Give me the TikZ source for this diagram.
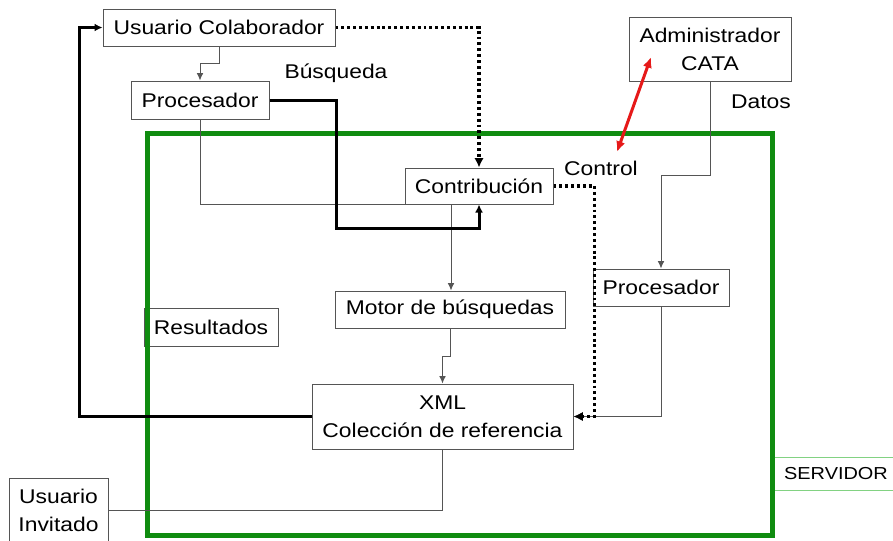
\documentclass[tikz,border=0pt]{standalone}
\usepackage{fontspec}
\setmainfont{Liberation Sans}[FakeStretch=1.15]
\usetikzlibrary{arrows.meta,calc}
\definecolor{boxgray}{RGB}{85,85,85}
\definecolor{srvgreen}{RGB}{16,140,16}
\definecolor{lightgreen}{RGB}{130,210,130}
\definecolor{redarrow}{RGB}{230,25,25}
\begin{document}
\begin{tikzpicture}[x=0.75pt,y=-0.75pt,
  font=\fontsize{14.9}{21}\selectfont,
  box/.style={draw=boxgray,line width=0.75pt,inner sep=0pt,align=center},
  lbl/.style={inner sep=0pt},
  conn/.style={draw=boxgray,line width=0.75pt},
  connarr/.style={conn,-{Latex[length=5.5pt,width=5pt]}},
  thickarr/.style={draw=black,line width=2.25pt,-{Latex[length=6pt,width=6pt]}},
  dotarr/.style={draw=black,line width=2.4pt,dash pattern=on 2.2pt off 2.2pt,-{Latex[length=7pt,width=7pt]}}]
\clip (0,0) rectangle (893,540);
\fill[white] (0,0) rectangle (893,540);
% nodes
\node[box,minimum width=174pt,minimum height=27.75pt] (uc) at (219,27.5) {Usuario Colaborador};
\node[box,minimum width=103.5pt,minimum height=28.5pt] (p1) at (200,100) {Procesador};
\node[box,minimum width=111pt,minimum height=27pt] (contrib) at (479,186) {Contribución};
\node[box,minimum width=172.5pt,minimum height=27.75pt] (motor) at (450,309.5) {Motor de búsquedas};
\node[box,minimum width=195.75pt,minimum height=48.75pt] (xml) at (442.5,416.5) {XML\\Colección de referencia};
\node[box,minimum width=100.5pt,minimum height=28.5pt] (res) at (211,327) {Resultados};
\node[box,minimum width=74.25pt,minimum height=48pt] (ui) at (58.5,510) {Usuario\\Invitado};
\node[box,minimum width=121.5pt,minimum height=48pt] (adm) at (710,49) {Administrador\\CATA};
\node[box,minimum width=102pt,minimum height=27.75pt] (p2) at (661,287.5) {Procesador};
\node[draw=lightgreen,line width=0.75pt,inner sep=0pt,minimum width=96pt,minimum height=24.75pt,font=\fontsize{13}{16}\selectfont] (srv) at (836,473.5) {SERVIDOR};
% labels
\node[lbl] (busq) at (336,73) {Búsqueda};
\node[lbl] (datos) at (761,102) {Datos};
\node[lbl] (control) at (601,168) {Control};
% server frame
\draw[srvgreen,line width=3.75pt] (147,133) rectangle (772,535);
% connectors
\draw[connarr] (uc.south) -- ++(0,17) -| (p1.north);
\draw[conn] (p1.south) |- (contrib.south west);
\draw[connarr] ([xshift=-21pt]contrib.south) -- ([xshift=-21pt]contrib.south |- motor.north);
\draw[connarr] (motor.south) -- ++(0,28) -| (xml.north);
\draw[conn] (xml.south) |- (ui.east);
\draw[connarr] (adm.south) -- ++(0,94) -| (p2.north);
\draw[connarr] (p2.south) |- (xml.east);
\draw[thickarr] (p1.east) -| ($(p1.east)+(67,128)$) -| (contrib.south);
\draw[thickarr] (xml.west) -| ([xshift=-17.25pt]uc.west) -- (uc.west);
\draw[dotarr] (uc.east) -| (contrib.north);
\draw[dotarr] (contrib.east) -| ([xshift=1.5pt]p2.west) |- (xml.east);
\coordinate (redA) at (651,57);
\coordinate (redB) at (617,152);
\draw[redarrow,line width=2.25pt,{Latex[length=8pt,width=7pt]}-{Latex[length=8pt,width=7pt]}] (redA) -- (redB);
\end{tikzpicture}
\end{document}
